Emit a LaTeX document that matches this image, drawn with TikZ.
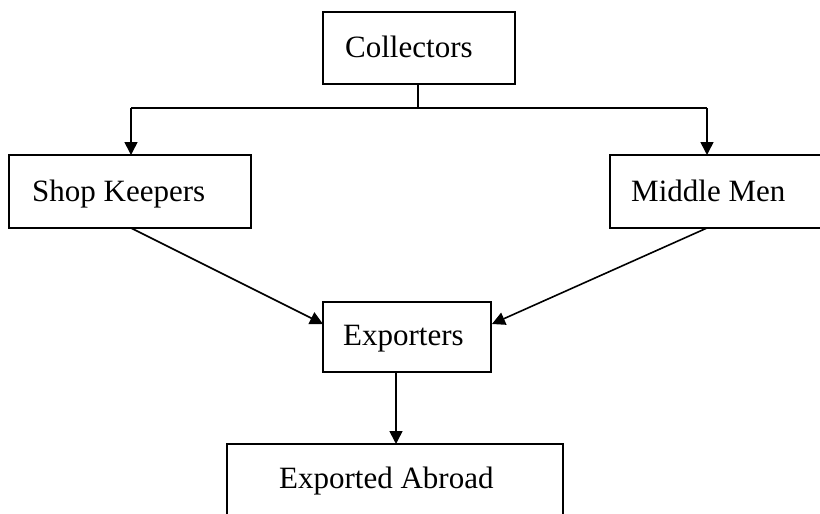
\documentclass[tikz,border=0pt]{standalone}
\usepackage{fontspec}
\setmainfont{Liberation Serif}
\usetikzlibrary{arrows.meta}
\begin{document}
\begin{tikzpicture}[x=1pt,y=-1pt,
  box/.style={draw=black, line width=1.8pt, rectangle, inner sep=0pt, fill=none},
  lbl/.style={anchor=base west, inner sep=0pt, font=\fontsize{31}{36}\selectfont},
  conn/.style={draw=black, line width=1.6pt},
  arr/.style={conn, -{Triangle[length=13pt,width=13pt]}}]
\useasboundingbox (0,0) rectangle (820,514);
\clip (0,0) rectangle (820,514);
% boxes
\node[box, minimum width=192pt, minimum height=72pt] (col) at (419,48) {};
\node[box, minimum width=242pt, minimum height=73pt] (shop) at (130,191.5) {};
\node[box, minimum width=212pt, minimum height=73pt] (mid) at (716,191.5) {};
\node[box, minimum width=168pt, minimum height=70pt] (exp) at (407,337) {};
\node[box, minimum width=336pt, minimum height=76pt] (abr) at (395,482) {};
% labels
\node[lbl] (colT) at (345,57) {Collectors};
\node[lbl] (shopT) at (32,201) {Shop Keepers};
\node[lbl] (midT) at (631,201) {Middle Men};
\node[lbl] (expT) at (343,345) {Exporters};
\node[lbl] (abrT) at (279,488) {Exported Abroad};
% connector points
\coordinate (j) at (418,108);
\coordinate (jl) at (131,108);
\coordinate (jr) at (707,108);
\coordinate (shopIn) at (131,155);
\coordinate (midIn) at (707,155);
\coordinate (shopOut) at (131,228);
\coordinate (midOut) at (707,228);
\coordinate (expL) at (323,324);
\coordinate (expR) at (492,324);
\coordinate (expOut) at (396,372);
\coordinate (abrIn) at (396,444);
% connectors
\draw[conn] (col.south -| j) -- (j);
\draw[conn] (jl) -- (jr);
\draw[arr] (jl) -- (shopIn);
\draw[arr] (jr) -- (midIn);
\draw[arr] (shopOut) -- (expL);
\draw[arr] (midOut) -- (expR);
\draw[arr] (expOut) -- (abrIn);
\end{tikzpicture}
\end{document}
